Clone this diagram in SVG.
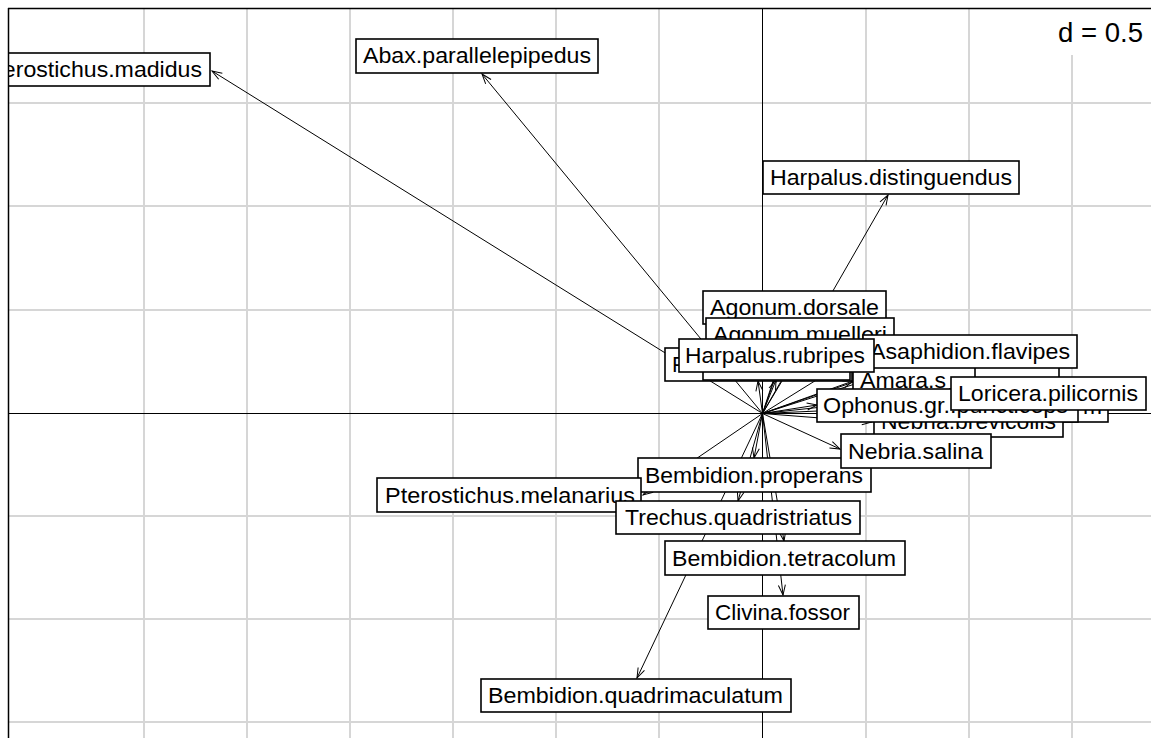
<svg xmlns="http://www.w3.org/2000/svg" width="1151" height="738" viewBox="0 0 1151 738">
  <style>
    .grid line { stroke: #d6d6d6; stroke-width: 2; }
    .axis { stroke: #000; stroke-width: 1; }
    .frame { stroke: #000; stroke-width: 1.5; fill: none; }
    #connectors line { stroke: #000; stroke-width: 1; marker-end: url(#head); }
    .node rect { fill: #fff; stroke: #000; stroke-width: 1.6; }
    .node text { font-family: "Liberation Sans", Arial, sans-serif; font-size: 21.5px; fill: #000; }
    .dlab { font-family: "Liberation Sans", Arial, sans-serif; font-size: 27px; fill: #000; }
  </style>
  <defs>
    <clipPath id="plot">
      <rect x="8" y="8" width="1143" height="730"/>
    </clipPath>
    <marker id="head" markerUnits="userSpaceOnUse" markerWidth="12" markerHeight="9" refX="10" refY="4" orient="auto" overflow="visible">
      <path d="M0,0.5 L10,4 L0,7.5" fill="none" stroke="#000" stroke-width="1"/>
    </marker>
  </defs>

  <rect x="0" y="0" width="1151" height="738" fill="#fff"/>

  <g clip-path="url(#plot)">
    <!-- grid, d = 0.5 -->
    <g class="grid">
      <line x1="144" y1="8" x2="144" y2="738"/>
      <line x1="247" y1="8" x2="247" y2="738"/>
      <line x1="350" y1="8" x2="350" y2="738"/>
      <line x1="453" y1="8" x2="453" y2="738"/>
      <line x1="556" y1="8" x2="556" y2="738"/>
      <line x1="659" y1="8" x2="659" y2="738"/>
      <line x1="866" y1="8" x2="866" y2="738"/>
      <line x1="969" y1="8" x2="969" y2="738"/>
      <line x1="1072" y1="8" x2="1072" y2="738"/>
      <line x1="8" y1="103" x2="1151" y2="103"/>
      <line x1="8" y1="206" x2="1151" y2="206"/>
      <line x1="8" y1="310" x2="1151" y2="310"/>
      <line x1="8" y1="516" x2="1151" y2="516"/>
      <line x1="8" y1="619" x2="1151" y2="619"/>
      <line x1="8" y1="722" x2="1151" y2="722"/>
    </g>
    <rect x="1050" y="9" width="101" height="46" fill="#fff"/>
    <text class="dlab" x="1058" y="42" textLength="85" lengthAdjust="spacingAndGlyphs">d = 0.5</text>

    <!-- axes through the origin -->
    <line class="axis" x1="762.5" y1="8" x2="762.5" y2="738"/>
    <line class="axis" x1="8" y1="413.5" x2="1151" y2="413.5"/>

    <!-- arrows from the origin to each species -->
    <g id="connectors">
      <line x1="762.5" y1="413.5" x2="212" y2="71"/>
      <line x1="762.5" y1="413.5" x2="482" y2="74"/>
      <line x1="762.5" y1="413.5" x2="888" y2="195"/>
      <line x1="762.5" y1="413.5" x2="794" y2="324"/>
      <line x1="762.5" y1="413.5" x2="800" y2="351"/>
      <line x1="762.5" y1="413.5" x2="776" y2="372"/>
      <line x1="762.5" y1="413.5" x2="758" y2="381"/>
      <line x1="762.5" y1="413.5" x2="776" y2="380"/>
      <line x1="762.5" y1="413.5" x2="863" y2="351"/>
      <line x1="762.5" y1="413.5" x2="853" y2="381"/>
      <line x1="762.5" y1="413.5" x2="900" y2="366"/>
      <line x1="762.5" y1="413.5" x2="905" y2="368"/>
      <line x1="762.5" y1="413.5" x2="950" y2="405"/>
      <line x1="762.5" y1="413.5" x2="951" y2="393"/>
      <line x1="762.5" y1="413.5" x2="817" y2="405"/>
      <line x1="762.5" y1="413.5" x2="872" y2="422"/>
      <line x1="762.5" y1="413.5" x2="840" y2="449"/>
      <line x1="762.5" y1="413.5" x2="754" y2="458"/>
      <line x1="762.5" y1="413.5" x2="738" y2="501"/>
      <line x1="762.5" y1="413.5" x2="784" y2="541"/>
      <line x1="762.5" y1="413.5" x2="783" y2="595"/>
      <line x1="762.5" y1="413.5" x2="637" y2="678"/>
      <line x1="762.5" y1="413.5" x2="643" y2="495"/>
    </g>

    <!-- species labels -->
    <g id="n-poecilus" class="node">
      <rect x="665" y="348" width="187" height="33"/>
      <text x="672" y="372">P</text>
    </g>
    <g id="n-hidden-a" class="node">
      <rect x="703" y="347" width="147" height="33"/>
    </g>
    <g id="n-agonum-dorsale" class="node">
      <rect x="703" y="291" width="183" height="33"/>
      <text x="710" y="315" textLength="169" lengthAdjust="spacingAndGlyphs">Agonum.dorsale</text>
    </g>
    <g id="n-agonum-muelleri" class="node">
      <rect x="706" y="318" width="188" height="33"/>
      <text x="713" y="342" textLength="174" lengthAdjust="spacingAndGlyphs">Agonum.muelleri</text>
    </g>
    <g id="n-hidden-b" class="node">
      <rect x="900" y="350" width="148" height="33"/>
    </g>
    <g id="n-hidden-c" class="node">
      <rect x="905" y="352" width="154" height="33"/>
    </g>
    <g id="n-amara" class="node">
      <rect x="853" y="364" width="122" height="33"/>
      <text x="860" y="388" textLength="86" lengthAdjust="spacingAndGlyphs">Amara.s</text>
    </g>
    <g id="n-asaphidion-flavipes" class="node">
      <rect x="863" y="335" width="214" height="33"/>
      <text x="870" y="359" textLength="200" lengthAdjust="spacingAndGlyphs">Asaphidion.flavipes</text>
    </g>
    <g id="n-harpalus-rubripes" class="node">
      <rect x="679" y="339" width="195" height="33"/>
      <text x="685" y="363" textLength="180" lengthAdjust="spacingAndGlyphs">Harpalus.rubripes</text>
    </g>
    <g id="n-hidden-m" class="node">
      <rect x="950" y="389" width="158" height="33"/>
      <text x="1083" y="414" textLength="19" lengthAdjust="spacingAndGlyphs">m</text>
    </g>
    <g id="n-nebria-brevicollis" class="node">
      <rect x="874" y="404" width="189" height="33"/>
      <text x="881" y="429" textLength="175" lengthAdjust="spacingAndGlyphs">Nebria.brevicollis</text>
    </g>
    <g id="n-ophonus" class="node">
      <rect x="817" y="389" width="261" height="33"/>
      <text x="823" y="413" textLength="245" lengthAdjust="spacingAndGlyphs">Ophonus.gr..puncticeps</text>
    </g>
    <g id="n-loricera-pilicornis" class="node">
      <rect x="951" y="377" width="195" height="33"/>
      <text x="958" y="401" textLength="180" lengthAdjust="spacingAndGlyphs">Loricera.pilicornis</text>
    </g>
    <g id="n-bembidion-properans" class="node">
      <rect x="638" y="458" width="233" height="34"/>
      <text x="645" y="483" textLength="218" lengthAdjust="spacingAndGlyphs">Bembidion.properans</text>
    </g>
    <g id="n-nebria-salina" class="node">
      <rect x="841" y="434" width="150" height="34"/>
      <text x="848" y="459" textLength="135" lengthAdjust="spacingAndGlyphs">Nebria.salina</text>
    </g>
    <g id="n-pterostichus-melanarius" class="node">
      <rect x="377" y="478" width="264" height="34"/>
      <text x="385" y="503" textLength="250" lengthAdjust="spacingAndGlyphs">Pterostichus.melanarius</text>
    </g>
    <g id="n-trechus-quadristriatus" class="node">
      <rect x="616" y="501" width="244" height="33"/>
      <text x="625" y="525" textLength="227" lengthAdjust="spacingAndGlyphs">Trechus.quadristriatus</text>
    </g>
    <g id="n-bembidion-tetracolum" class="node">
      <rect x="665" y="541" width="240" height="34"/>
      <text x="672" y="566" textLength="224" lengthAdjust="spacingAndGlyphs">Bembidion.tetracolum</text>
    </g>
    <g id="n-clivina-fossor" class="node">
      <rect x="708" y="596" width="151" height="33"/>
      <text x="715" y="620" textLength="135" lengthAdjust="spacingAndGlyphs">Clivina.fossor</text>
    </g>
    <g id="n-bembidion-quadrimaculatum" class="node">
      <rect x="481" y="679" width="310" height="33"/>
      <text x="488" y="703" textLength="295" lengthAdjust="spacingAndGlyphs">Bembidion.quadrimaculatum</text>
    </g>
    <g id="n-pterostichus-madidus" class="node">
      <rect x="-26" y="53" width="236" height="33"/>
      <text x="-19" y="77" textLength="221" lengthAdjust="spacingAndGlyphs">Pterostichus.madidus</text>
    </g>
    <g id="n-abax-parallelepipedus" class="node">
      <rect x="356" y="39" width="242" height="34"/>
      <text x="363" y="63" textLength="228" lengthAdjust="spacingAndGlyphs">Abax.parallelepipedus</text>
    </g>
    <g id="n-harpalus-distinguendus" class="node">
      <rect x="763" y="161" width="256" height="33"/>
      <text x="770" y="185" textLength="242" lengthAdjust="spacingAndGlyphs">Harpalus.distinguendus</text>
    </g>
  </g>

  <!-- plot frame (top and left edges fall inside the canvas) -->
  <line class="frame" x1="8" y1="8.5" x2="1151" y2="8.5"/>
  <line class="frame" x1="8.5" y1="8" x2="8.5" y2="738"/>
</svg>
